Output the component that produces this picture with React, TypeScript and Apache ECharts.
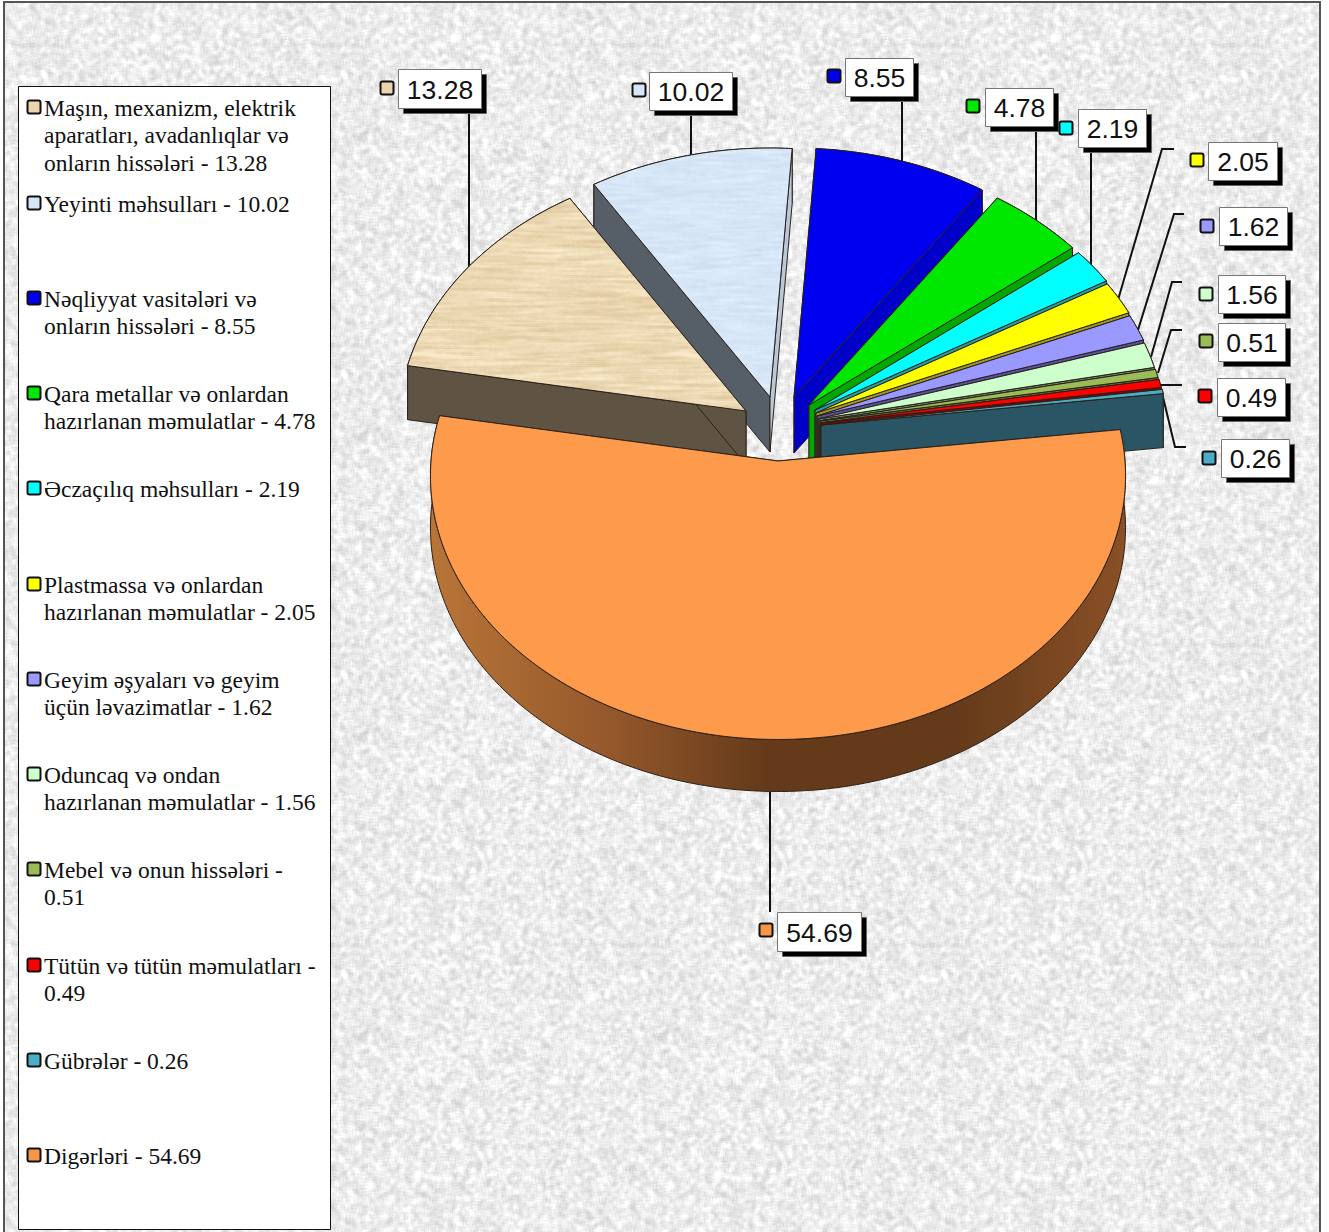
import React, { useEffect, useRef } from "react";
import * as echarts from "echarts";

const categories = [
  "Maşın, mexanizm, elektrik\naparatları, avadanlıqlar və\nonların hissələri",
  "Yeyinti məhsulları",
  "Nəqliyyat vasitələri və\nonların hissələri",
  "Qara metallar və onlardan\nhazırlanan məmulatlar",
  "Əczaçılıq məhsulları",
  "Plastmassa və onlardan\nhazırlanan məmulatlar",
  "Geyim əşyaları və geyim\nüçün ləvazimatlar",
  "Oduncaq və ondan\nhazırlanan məmulatlar",
  "Mebel və onun hissələri -\n",
  "Tütün və tütün məmulatları -\n",
  "Gübrələr",
  "Digərləri",
];
const values = [13.28, 10.02, 8.55, 4.78, 2.19, 2.05, 1.62, 1.56, 0.51, 0.49, 0.26, 54.69];
const valueText = ["13.28", "10.02", "8.55", "4.78", "2.19", "2.05", "1.62", "1.56", "0.51", "0.49", "0.26", "54.69"];
const colors = ["#ecd5ae", "#d6e6f7", "#0000f0", "#00e800", "#00ffff", "#ffff00", "#9999ff", "#ccffcc", "#9bbb59", "#ff0000", "#4bacc6", "#fd9a4b"];
const startCutColors = ["#5f5444", "#565e68", "#0000b8", "#00a000", "#22a0a8", "#a09a20", "#5a50a0", "#6a8a6a", "#5d6b3a", "#900000", "#2a5565", "#6a3c1a"];
const endCutColors = ["#5f5444", "#b9c8d8", "#0000c8", "#00a800", "#22a0a8", "#a09a20", "#5a50a0", "#6a8a6a", "#5d6b3a", "#900000", "#2a5565", "#6a3c1a"];

// pie projection
const START_ANGLE = 170;
const RADIUS = 347;
const TILT = 0.76;
const PERSPECTIVE = 0.056;
const apexes = [[746, 411], [770, 397], [794, 397], [809, 405], [815, 410], [816, 413], [817, 416], [818, 419], [819, 421], [820, 423], [821, 425], [778, 461]];
const depths = [54, 55, 56, 55, 55, 55, 55, 55, 55, 55, 54, 52];
const paintOrder = [1, 0, 2, 3, 4, 5, 6, 7, 8, 9, 10, 11];

// annotations
const boxes = [[398, 69, 481, 108], [649, 72, 732, 110], [845, 58, 913, 96], [985, 88, 1053, 126], [1078, 109, 1146, 147], [1208, 142, 1277, 180], [1219, 207, 1287, 245], [1218, 275, 1285, 313], [1218, 323, 1285, 361], [1217, 378, 1285, 416], [1221, 439, 1289, 477], [777, 912, 861, 951]];
const labelMarkers = [[380, 81], [632, 83], [827, 69], [966, 99], [1059, 121], [1190, 153], [1200, 219], [1199, 287], [1199, 334], [1198, 389], [1202, 451], [759, 923]];
const leaders = [
  [[469, 108], [469, 268]],
  [[691, 110], [691, 157]],
  [[902, 96], [902, 165]],
  [[1036, 126], [1036, 223]],
  [[1091, 147], [1091, 268]],
  [[1174, 149], [1162, 149], [1118, 300]],
  [[1184, 214], [1174, 214], [1138, 330]],
  [[1182, 282], [1172, 282], [1151, 357]],
  [[1182, 330], [1171, 330], [1158, 373]],
  [[1182, 385], [1160, 385]],
  [[1162, 393], [1175, 447], [1186, 447]],
  [[770, 792], [770, 912]],
];
const legendY = [108, 204, 299, 394, 489, 585, 680, 775, 870, 966, 1061, 1156];

function makeNoise(w: number, h: number, seed: number, rx: number, ry: number) {
  let s = seed >>> 0;
  const next = () => {
    s = (Math.imul(s, 1664525) + 1013904223) >>> 0;
    return s / 4294967296;
  };
  let a = new Float32Array(w * h);
  for (let i = 0; i < a.length; i++) a[i] = next();
  const blur = (src: Float32Array, dx: number, dy: number, r: number) => {
    const out = new Float32Array(w * h);
    for (let y = 0; y < h; y++)
      for (let x = 0; x < w; x++) {
        let t = 0;
        for (let k = -r; k <= r; k++) t += src[((y + k * dy + h) % h) * w + ((x + k * dx + w) % w)];
        out[y * w + x] = t / (2 * r + 1);
      }
    return out;
  };
  if (rx) a = blur(a, 1, 0, rx);
  if (ry) a = blur(a, 0, 1, ry);
  let sum = 0;
  for (const v of a) sum += v;
  const m = sum / a.length;
  let sq = 0;
  for (const v of a) sq += (v - m) * (v - m);
  const sd = Math.sqrt(sq / a.length) || 1;
  return a.map((v) => (v - m) / sd);
}

function texture(w: number, h: number, seed: number, rx: number, ry: number, base: number[], amp: number[]) {
  const n = makeNoise(w, h, seed, rx, ry);
  const c = document.createElement("canvas");
  c.width = w;
  c.height = h;
  const ctx = c.getContext("2d")!;
  const img = ctx.createImageData(w, h);
  for (let i = 0; i < n.length; i++) {
    const v = Math.max(-2.6, Math.min(2.6, n[i]));
    img.data[i * 4] = base[0] + v * amp[0];
    img.data[i * 4 + 1] = base[1] + v * amp[1];
    img.data[i * 4 + 2] = base[2] + v * amp[2];
    img.data[i * 4 + 3] = 255;
  }
  ctx.putImageData(img, 0, 0);
  return c.toDataURL("image/png");
}

function project(ax: number, ay: number, deg: number) {
  const a = (deg * Math.PI) / 180;
  const s = 1 - PERSPECTIVE * Math.sin(a);
  return [ax + RADIUS * Math.cos(a) * s, ay - TILT * RADIUS * Math.sin(a) * s];
}

export default function App() {
  const ref = useRef<HTMLDivElement>(null);
  const bgRef = useRef<HTMLDivElement>(null);
  useEffect(() => {
    const bg = texture(300, 300, 12345, 2, 2, [236, 236, 236], [9, 9, 9]);
    if (bgRef.current) bgRef.current.style.backgroundImage = `url(${bg})`;
    const wood = texture(256, 256, 777, 18, 1, [236, 217, 180], [5, 6, 8]);
    const ice = texture(256, 256, 999, 10, 1, [214, 230, 247], [3, 3, 2]);
    const fills: any[] = colors.slice();
    fills[0] = { image: wood, repeat: "repeat", imageWidth: 256, imageHeight: 256 };
    fills[1] = { image: ice, repeat: "repeat", imageWidth: 256, imageHeight: 256 };

    const total = values.reduce((p, v) => p + v, 0);
    const starts: number[] = [];
    let acc = START_ANGLE;
    values.forEach((v) => {
      starts.push(acc);
      acc -= (v / total) * 360;
    });

    const renderItem = (_: any, api: any) => {
      const i = api.value(0) as number;
      const [ax, ay] = apexes[i];
      const d = depths[i];
      const a0 = starts[i];
      const sweep = (api.value(1) / total) * 360;
      const steps = Math.max(4, Math.ceil(sweep * 1.5));
      const arc: number[][] = [];
      for (let k = 0; k <= steps; k++) arc.push(project(ax, ay, a0 - (sweep * k) / steps));
      const down = (p: number[]) => [p[0], p[1] + d];
      const edge = { stroke: "#2a2018", lineWidth: 1, lineJoin: "round" };
      const first = arc[0];
      const last = arc[arc.length - 1];
      const wallFill: any =
        i === 11
          ? {
              type: "linear", x: 0, y: 0, x2: 1, y2: 0,
              colorStops: [
                { offset: 0, color: "#b87538" },
                { offset: 0.25, color: "#96592c" },
                { offset: 0.48, color: "#653a1a" },
                { offset: 0.75, color: "#643a1a" },
                { offset: 1, color: "#8a5026" },
              ],
            }
          : startCutColors[i];
      return {
        type: "group",
        children: [
          { type: "polygon", shape: { points: [...arc, ...arc.slice().reverse().map(down)] }, style: { fill: wallFill, ...edge } },
          { type: "polygon", shape: { points: [[ax, ay], first, down(first), [ax, ay + d]] }, style: { fill: startCutColors[i], ...edge } },
          { type: "polygon", shape: { points: [[ax, ay], last, down(last), [ax, ay + d]] }, style: { fill: endCutColors[i], ...edge } },
          { type: "polygon", shape: { points: [[ax, ay], ...arc] }, style: { fill: fills[i], ...edge } },
        ],
      };
    };

    const graphics: any[] = [];
    graphics.push({ type: "rect", shape: { x: 18.5, y: 86.5, width: 312, height: 1143 }, style: { fill: "#fff", stroke: "#111", lineWidth: 1 } });
    categories.forEach((c, i) => {
      const y = legendY[i];
      graphics.push({ type: "rect", shape: { x: 27.5, y: y - 7.5, width: 13, height: 13, r: 2 }, style: { fill: colors[i] === "#fd9a4b" ? "#f79646" : colors[i], stroke: "#111", lineWidth: 2 } });
      const text = c.endsWith("\n") ? `${c}${valueText[i]}` : `${c} - ${valueText[i]}`;
      graphics.push({
        type: "text",
        x: 44,
        y: y - 14,
        style: { text, fill: "#111", font: "23.5px 'Liberation Serif'", lineHeight: 27.5, textAlign: "left", textVerticalAlign: "top" },
      });
    });
    leaders.forEach((pts) => {
      graphics.push({ type: "polyline", shape: { points: pts }, style: { fill: "none", stroke: "#111", lineWidth: 2 } });
    });
    boxes.forEach(([x1, y1, x2, y2], i) => {
      const [mx, my] = labelMarkers[i];
      graphics.push({ type: "rect", shape: { x: mx + 0.5, y: my + 0.5, width: 13, height: 13, r: 2 }, style: { fill: colors[i] === "#fd9a4b" ? "#f79646" : colors[i], stroke: "#111", lineWidth: 2 } });
      graphics.push({ type: "rect", shape: { x: x1 + 5.5, y: y1 + 5.5, width: x2 - x1, height: y2 - y1 }, style: { fill: "#000", stroke: "#666", lineWidth: 1 } });
      graphics.push({ type: "rect", shape: { x: x1 + 0.5, y: y1 + 0.5, width: x2 - x1, height: y2 - y1 }, style: { fill: "#fff", stroke: "#777", lineWidth: 1 } });
      graphics.push({
        type: "text",
        x: (x1 + x2) / 2 + 0.5,
        y: (y1 + y2) / 2 + 1,
        style: { text: valueText[i], fill: "#111", font: "26.5px 'Liberation Sans'", textAlign: "center", textVerticalAlign: "middle" },
      });
    });

    const chart = echarts.init(ref.current!, undefined, { renderer: "svg" });
    chart.setOption({
      animation: false,
      backgroundColor: "transparent",
      graphic: { elements: graphics },
      series: [
        {
          type: "custom",
          coordinateSystem: "none",
          renderItem,
          silent: true,
          clip: false,
          data: paintOrder.map((i) => [i, values[i]]),
        },
      ],
    });
    return () => chart.dispose();
  }, []);
  return (
    <div style={{ position: "absolute", left: 0, top: 0, width: 1329, height: 1232, overflow: "hidden", background: "#fff" }}>
      <div
        ref={bgRef}
        style={{ position: "absolute", left: 3, top: 1, width: 1314, height: 1260, border: "2px solid #555", boxSizing: "content-box", backgroundColor: "#ececec" }}
      />
      <div ref={ref} style={{ position: "absolute", left: 0, top: 0, width: 1329, height: 1232 }} />
    </div>
  );
}
